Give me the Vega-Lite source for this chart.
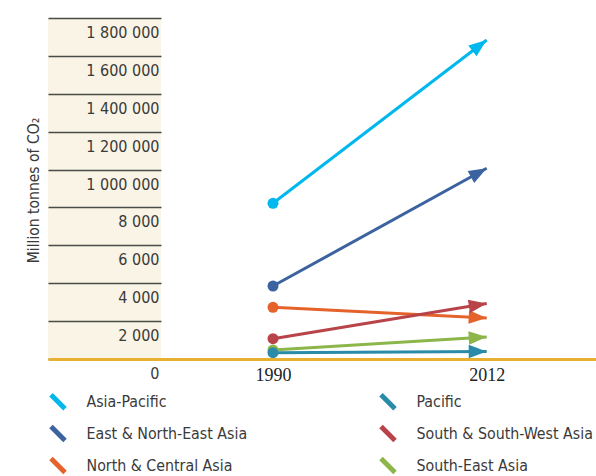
{
  "$schema": "https://vega.github.io/schema/vega-lite/v6.json",
  "width": 548,
  "height": 341,
  "autosize": {"type": "none"},
  "padding": {"left": 48, "top": 18, "right": 0, "bottom": 117},
  "background": "#ffffff",
  "config": {"view": {"stroke": null}},
  "data": {
    "values": [
      {"region": "Asia-Pacific", "year": 1990, "value": 8219},
      {"region": "Asia-Pacific", "year": 2012, "value": 16839},
      {"region": "East & North-East Asia", "year": 1990, "value": 3853},
      {"region": "East & North-East Asia", "year": 2012, "value": 10067},
      {"region": "North & Central Asia", "year": 1990, "value": 2729},
      {"region": "North & Central Asia", "year": 2012, "value": 2164},
      {"region": "South & South-West Asia", "year": 1990, "value": 1072},
      {"region": "South & South-West Asia", "year": 2012, "value": 2930},
      {"region": "South-East Asia", "year": 1990, "value": 475},
      {"region": "South-East Asia", "year": 2012, "value": 1161},
      {"region": "Pacific", "year": 1990, "value": 333},
      {"region": "Pacific", "year": 2012, "value": 396}
    ]
  },
  "layer": [
    {
      "mark": {"type": "rect", "color": "#F9F4E5"},
      "encoding": {
        "x": {"datum": 1966.84, "type": "quantitative"},
        "x2": {"datum": 1978.47},
        "y": {"datum": 0, "type": "quantitative"},
        "y2": {"datum": 18000}
      }
    },
    {
      "mark": {"type": "line", "strokeWidth": 3},
      "encoding": {
        "x": {
          "field": "year", "type": "quantitative",
          "scale": {"domain": [1966.84, 2023.25], "nice": false, "zero": false},
          "axis": {
            "values": [1990, 2012], "tickCount": 20, "format": "d", "title": null,
            "ticks": false, "tickSize": 0, "labelPadding": 7,
            "labelFont": "Liberation Serif", "labelFontSize": 18, "labelColor": "#222222",
            "labelFlush": false, "labelOverlap": false,
            "domainColor": "#E8B030", "domainWidth": 3, "grid": false, "zindex": 2
          }
        },
        "y": {
          "field": "value", "type": "quantitative",
          "scale": {"domain": [0, 18000], "nice": false},
          "axis": {
            "values": [0, 2000, 4000, 6000, 8000, 10000, 12000, 14000, 16000, 18000],
            "tickCount": 20,
            "labelExpr": "replace(format(datum.value >= 10000 ? datum.value * 100 : datum.value, ','), regexp(',', 'g'), ' ')",
            "offset": -113, "domain": false, "grid": false,
            "tickSize": 113, "tickColor": "#4a4a4a", "tickWidth": 1.3,
            "labelAlign": "right", "labelBaseline": "middle", "labelPadding": -111, "labelOffset": 14.5,
            "labelFont": "DejaVu Sans Condensed", "labelFontSize": 16, "labelColor": "#3a3a3a",
            "labelOverlap": false, "labelFlush": false,
            "title": "Million tonnes of CO₂",
            "titleFont": "DejaVu Sans Condensed", "titleFontSize": 15.5,
            "titleFontWeight": "normal", "titleColor": "#3a3a3a",
            "titleX": -128, "titleY": 172, "titleAngle": 270, "titleAlign": "center", "titleBaseline": "middle",
            "zindex": 1
          }
        },
        "color": {
          "field": "region", "type": "nominal",
          "scale": {
            "domain": ["Asia-Pacific", "East & North-East Asia", "North & Central Asia", "Pacific", "South & South-West Asia", "South-East Asia"],
            "range": ["#00B8EE", "#3C63A0", "#E5622A", "#2A8BA8", "#B8444A", "#8CB54A"]
          },
          "legend": {
            "orient": "none", "legendX": 0.5, "legendY": 374, "columns": 2, "title": null,
            "padding": 0, "symbolType": "M-1,-1L1,1", "symbolSize": 196, "symbolStrokeWidth": 5,
            "labelFont": "DejaVu Sans Condensed", "labelFontSize": 15.8, "labelColor": "#3a3a3a",
            "labelLimit": 400,
            "labelOffset": 19, "columnPadding": 123, "rowPadding": -3
          }
        },
        "detail": {"field": "region"},
        "order": {"field": "year"}
      }
    },
    {
      "transform": [{"filter": "datum.year == 1990"}],
      "mark": {"type": "point", "filled": true, "opacity": 1, "size": 121, "shape": "circle", "strokeWidth": 0},
      "encoding": {
        "x": {"field": "year", "type": "quantitative"},
        "y": {"field": "value", "type": "quantitative"},
        "fill": {
          "field": "region", "type": "nominal", "legend": null,
          "scale": {
            "domain": ["Asia-Pacific", "East & North-East Asia", "North & Central Asia", "Pacific", "South & South-West Asia", "South-East Asia"],
            "range": ["#00B8EE", "#3C63A0", "#E5622A", "#2A8BA8", "#B8444A", "#8CB54A"]
          }
        }
      }
    },
    {
      "transform": [
        {"window": [{"op": "first_value", "field": "value", "as": "v0"}], "groupby": ["region"], "sort": [{"field": "year"}], "frame": [null, null]},
        {"filter": "datum.year == 2012"},
        {"calculate": "-atan2((datum.value - datum.v0) * 341 / 18000, 22 * 548 / 56.41) * 180 / PI", "as": "ang"}
      ],
      "mark": {"type": "point", "filled": true, "opacity": 1, "size": 324, "shape": "M0,0L-2,-0.75L-2,0.75Z", "strokeWidth": 0},
      "encoding": {
        "x": {"field": "year", "type": "quantitative"},
        "y": {"field": "value", "type": "quantitative"},
        "angle": {"field": "ang", "type": "quantitative", "scale": null},
        "fill": {"field": "region", "type": "nominal", "legend": null}
      }
    }
  ]
}
